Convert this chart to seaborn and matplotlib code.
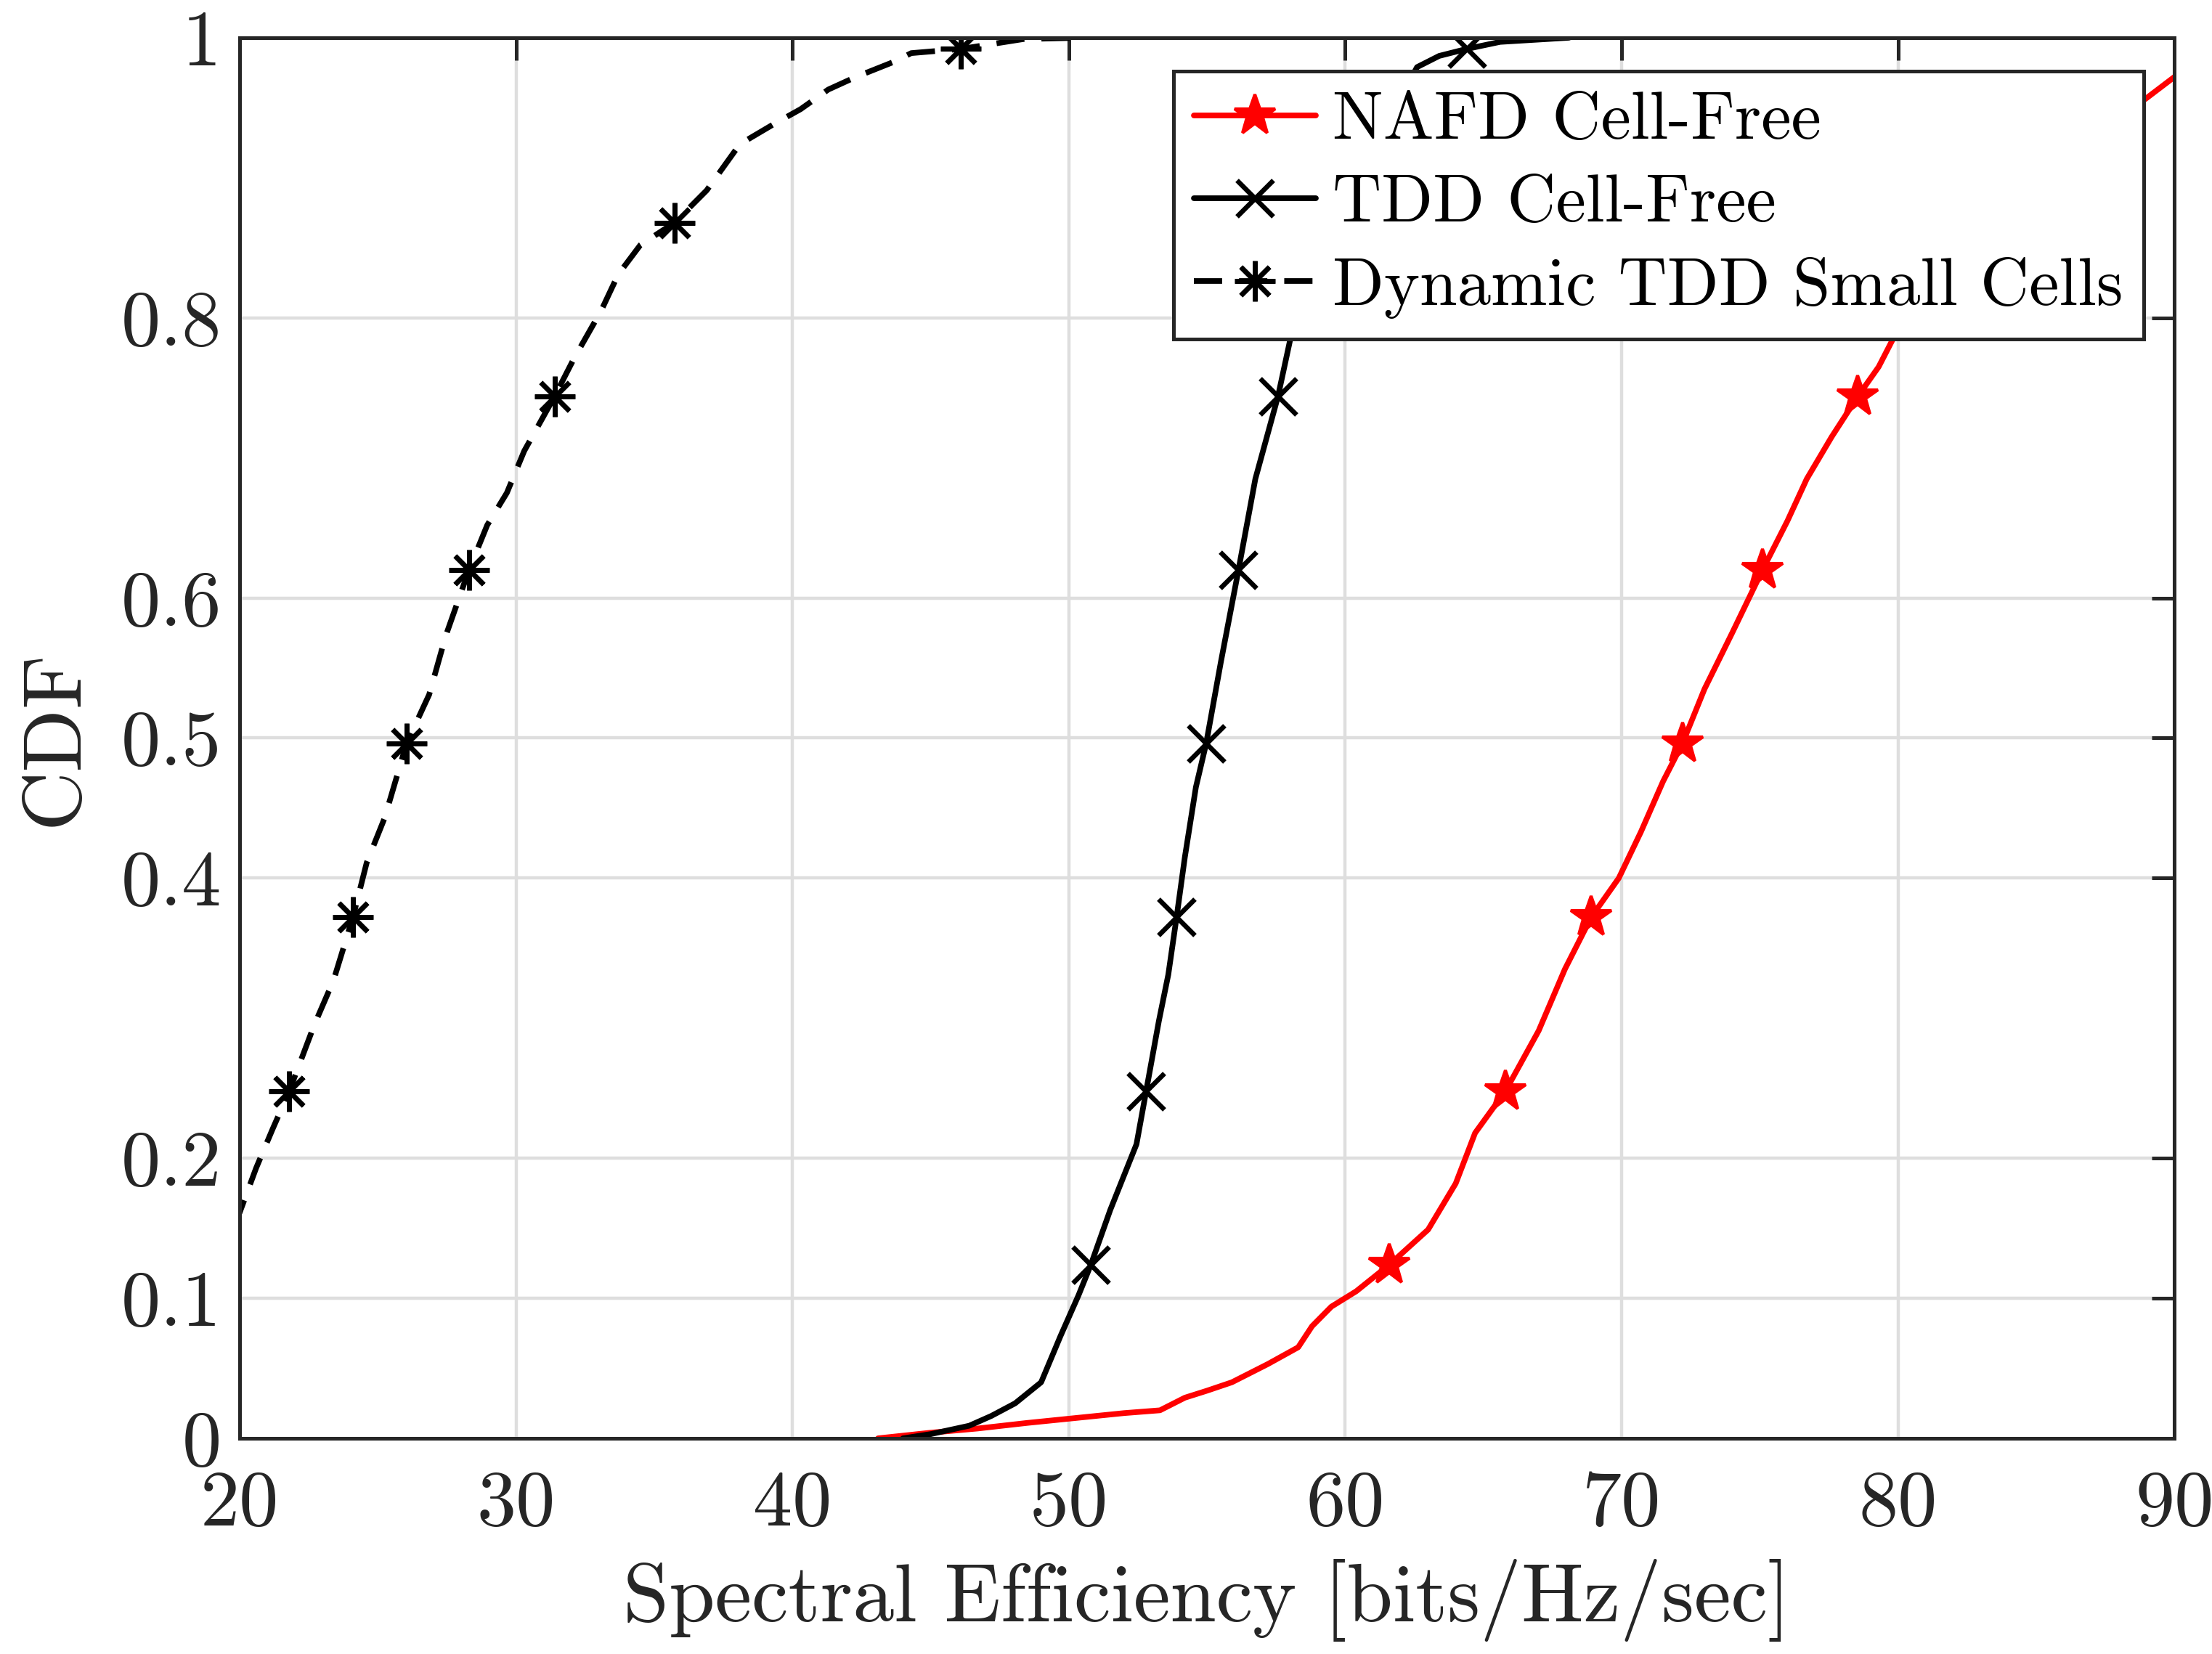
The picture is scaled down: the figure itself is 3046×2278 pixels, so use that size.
import matplotlib
matplotlib.use('Agg')
import matplotlib.pyplot as plt
import seaborn as sns

# CDF curves (spectral efficiency, CDF)
nafd_x = [43.1, 45.0, 46.7, 48.5, 50.0, 52.0, 53.3, 54.2, 55.0, 55.9, 57.2, 58.3, 58.8,
          59.5, 60.4, 61.6, 63.0, 64.0, 64.7, 65.8, 67.0, 67.95, 68.9, 69.9, 70.7, 71.5,
          72.2, 73.0, 74.0, 75.1, 76.0, 76.7, 77.6, 78.55, 79.3, 79.9, 81.0, 82.2, 83.4,
          85.0, 87.0, 89.0, 90.0, 91.3, 93.0]
nafd_y = [0.0, 0.004, 0.007, 0.011, 0.014, 0.018, 0.020, 0.029, 0.034, 0.040, 0.053, 0.065, 0.080,
          0.094, 0.105, 0.124, 0.149, 0.182, 0.218, 0.248, 0.291, 0.335, 0.372, 0.400, 0.433, 0.469,
          0.496, 0.535, 0.575, 0.620, 0.655, 0.685, 0.715, 0.744, 0.765, 0.788, 0.815, 0.843, 0.868,
          0.895, 0.928, 0.957, 0.972, 0.992, 1.0]

tdd_x = [44.0, 45.0, 46.4, 47.2, 48.06, 49.0, 49.7, 50.35, 50.8, 51.5, 52.45, 52.8, 53.26,
         53.6, 53.9, 54.2, 54.6, 54.97, 55.5, 56.14, 56.75, 57.57, 58.05, 59.0, 60.0, 61.0,
         61.8, 62.6, 63.4, 64.4, 65.6, 68.1]
tdd_y = [0.0, 0.003, 0.009, 0.016, 0.025, 0.040, 0.073, 0.102, 0.124, 0.163, 0.210, 0.248, 0.298,
         0.331, 0.372, 0.415, 0.465, 0.496, 0.554, 0.620, 0.685, 0.744, 0.788, 0.830, 0.868, 0.915,
         0.950, 0.979, 0.987, 0.992, 0.997, 1.0]

dyn_x = [18.9, 20.0, 20.6, 21.2, 21.8, 22.7, 23.4, 24.1, 24.6, 25.25, 26.04, 26.86, 27.46,
         28.3, 28.96, 29.67, 30.3, 31.4, 32.1, 33.08, 33.7, 34.5, 35.74, 36.9, 38.1, 39.3,
         40.3, 41.3, 42.3, 43.7, 44.3, 46.1, 48.35, 50.5]
dyn_y = [0.124, 0.161, 0.193, 0.221, 0.248, 0.295, 0.327, 0.372, 0.411, 0.443, 0.496, 0.531, 0.573,
         0.620, 0.652, 0.675, 0.705, 0.744, 0.771, 0.805, 0.831, 0.852, 0.868, 0.891, 0.924, 0.938,
         0.949, 0.963, 0.972, 0.983, 0.989, 0.992, 0.999, 1.0]

# CDF levels where the markers sit
mark_levels = [0.124, 0.248, 0.372, 0.496, 0.620, 0.744, 0.868, 0.992]

labels = ['NAFD Cell-Free', 'TDD Cell-Free', 'Dynamic TDD Small Cells']
x_ticks = [20, 30, 40, 50, 60, 70, 80, 90]
y_ticks = [0, 0.1, 0.2, 0.4, 0.5, 0.6, 0.8, 1]
y_ticklabels = ['0', '0.1', '0.2', '0.4', '0.5', '0.6', '0.8', '1']


def marks(ys):
    return [i for i, y in enumerate(ys) if round(y, 3) in mark_levels]


sns.set_style('white')
plt.rcParams['font.family'] = 'cmr10'
plt.rcParams['mathtext.fontset'] = 'cm'
plt.rcParams['axes.formatter.use_mathtext'] = True

dark = '#262626'
fig, ax = plt.subplots(figsize=(15.23, 11.39), dpi=200)
fig.subplots_adjust(left=0.1083, right=0.983, bottom=0.1304, top=0.9772)

lw = 2.8
sns.lineplot(x=nafd_x, y=nafd_y, ax=ax, estimator=None, sort=False, color='red', lw=lw,
             marker='*', markersize=21, markevery=marks(nafd_y), mec='red', mew=1.5,
             label=labels[0])
sns.lineplot(x=tdd_x, y=tdd_y, ax=ax, estimator=None, sort=False, color='black', lw=lw,
             marker='x', markersize=18, markevery=marks(tdd_y), mec='black', mew=2.4,
             label=labels[1])
sns.lineplot(x=dyn_x, y=dyn_y, ax=ax, estimator=None, sort=False, color='black', lw=lw,
             linestyle=(0, (5, 3)), marker=(8, 2, 0), markersize=20,
             markevery=marks(dyn_y), mec='black', mew=2.4, label=labels[2])

ax.set_xlim(20, 90)
ax.set_ylim(0, 1)
ax.set_xticks(x_ticks)
ax.set_xticklabels([str(t) for t in x_ticks])
ax.set_yticks(y_ticks)
ax.set_yticklabels(y_ticklabels)

ax.grid(True, color='#dedede', lw=1.6)
ax.set_axisbelow(True)
for s in ax.spines.values():
    s.set_color(dark)
    s.set_linewidth(1.8)
ax.tick_params(direction='in', length=11, width=1.8, color=dark, labelcolor=dark,
               labelsize=39, top=True, right=True)
ax.tick_params(axis='x', pad=16)
ax.tick_params(axis='y', pad=9)

ax.set_xlabel('Spectral Efficiency [bits/Hz/sec]', fontsize=41, color=dark, labelpad=9)
ax.set_ylabel('CDF', fontsize=41, color=dark, labelpad=14)

leg = ax.legend(loc='upper right', bbox_to_anchor=(0.984, 0.976), borderaxespad=0,
                fancybox=False, framealpha=1, edgecolor=dark, fontsize=33.5,
                handlelength=1.8, handletextpad=0.25, labelspacing=0.33, borderpad=0.3)
leg.get_frame().set_linewidth(1.8)
for t in leg.get_texts():
    t.set_color('black')

fig.savefig('out.png', dpi=200)
